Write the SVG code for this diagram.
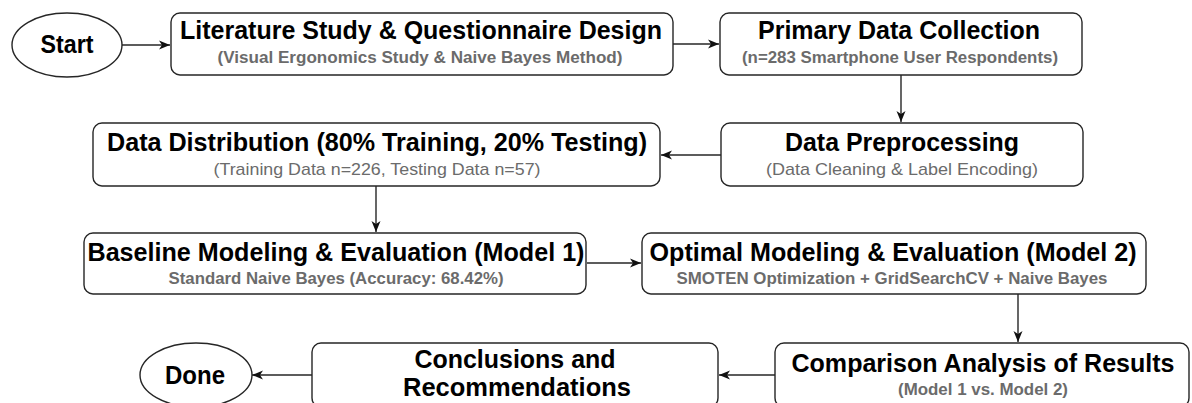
<svg xmlns="http://www.w3.org/2000/svg" width="1192" height="403" viewBox="0 0 1192 403">
  <style>
    .shape { fill: #ffffff; stroke: #262626; stroke-width: 1.4; }
    .edge { fill: none; stroke: #262626; stroke-width: 1.4; }
    .title { font-family: "Liberation Sans", Arial, sans-serif; font-weight: bold; font-size: 25px; fill: #000000; text-anchor: middle; }
    .sub { font-family: "Liberation Sans", Arial, sans-serif; font-weight: bold; font-size: 16px; fill: #6b6b6b; text-anchor: middle; }
    .sub-reg { font-family: "Liberation Sans", Arial, sans-serif; font-weight: normal; font-size: 17px; fill: #6b6b6b; text-anchor: middle; }
  </style>
  <defs>
    <marker id="arrow" markerUnits="userSpaceOnUse" markerWidth="12" markerHeight="10" refX="11" refY="5" orient="auto">
      <path d="M0,0.5 L11,5 L0,9.5 L3,5 Z" fill="#111111"/>
    </marker>
  </defs>

  <rect width="1192" height="403" fill="#ffffff"/>

  <!-- connectors -->
  <g id="connectors">
    <path class="edge" d="M122,45 H170" marker-end="url(#arrow)"/>
    <path class="edge" d="M673,44 H719" marker-end="url(#arrow)"/>
    <path class="edge" d="M901,75 V122" marker-end="url(#arrow)"/>
    <path class="edge" d="M721,155 H661" marker-end="url(#arrow)"/>
    <path class="edge" d="M376,186 V232" marker-end="url(#arrow)"/>
    <path class="edge" d="M587,263 H641" marker-end="url(#arrow)"/>
    <path class="edge" d="M1018,294 V342" marker-end="url(#arrow)"/>
    <path class="edge" d="M775,375 H719" marker-end="url(#arrow)"/>
    <path class="edge" d="M312,375 H252" marker-end="url(#arrow)"/>
  </g>

  <!-- terminals -->
  <g id="start">
    <ellipse class="shape" cx="67" cy="45" rx="55" ry="32"/>
    <text class="title" x="67" y="53" textLength="53" lengthAdjust="spacingAndGlyphs">Start</text>
  </g>

  <!-- process steps -->
  <g id="literature-study">
    <rect class="shape" x="171" y="13" width="502" height="62" rx="9"/>
    <text class="title" x="421" y="39" textLength="482" lengthAdjust="spacingAndGlyphs">Literature Study &amp; Questionnaire Design</text>
    <text class="sub" x="420" y="63" textLength="405" lengthAdjust="spacingAndGlyphs">(Visual Ergonomics Study &amp; Naive Bayes Method)</text>
  </g>

  <g id="data-collection">
    <rect class="shape" x="720" y="13" width="362" height="62" rx="9"/>
    <text class="title" x="899" y="39" textLength="282" lengthAdjust="spacingAndGlyphs">Primary Data Collection</text>
    <text class="sub" x="900" y="63" textLength="316" lengthAdjust="spacingAndGlyphs">(n=283 Smartphone User Respondents)</text>
  </g>

  <g id="data-preprocessing">
    <rect class="shape" x="721" y="123" width="362" height="63" rx="9"/>
    <text class="title" x="902" y="151" textLength="234" lengthAdjust="spacingAndGlyphs">Data Preprocessing</text>
    <text class="sub-reg" x="902" y="175" textLength="272" lengthAdjust="spacingAndGlyphs">(Data Cleaning &amp; Label Encoding)</text>
  </g>

  <g id="data-distribution">
    <rect class="shape" x="93" y="123" width="567" height="63" rx="9"/>
    <text class="title" x="377" y="151" textLength="540" lengthAdjust="spacingAndGlyphs">Data Distribution (80% Training, 20% Testing)</text>
    <text class="sub-reg" x="377" y="175" textLength="327" lengthAdjust="spacingAndGlyphs">(Training Data n=226, Testing Data n=57)</text>
  </g>

  <g id="baseline-model">
    <rect class="shape" x="84" y="233" width="502" height="61" rx="9"/>
    <text class="title" x="336" y="261" textLength="497" lengthAdjust="spacingAndGlyphs">Baseline Modeling &amp; Evaluation (Model 1)</text>
    <text class="sub" x="336" y="284" textLength="335" lengthAdjust="spacingAndGlyphs">Standard Naive Bayes (Accuracy: 68.42%)</text>
  </g>

  <g id="optimal-model">
    <rect class="shape" x="642" y="233" width="504" height="61" rx="9"/>
    <text class="title" x="893" y="261" textLength="487" lengthAdjust="spacingAndGlyphs">Optimal Modeling &amp; Evaluation (Model 2)</text>
    <text class="sub" x="892" y="284" textLength="431" lengthAdjust="spacingAndGlyphs">SMOTEN Optimization + GridSearchCV + Naive Bayes</text>
  </g>

  <g id="comparison">
    <rect class="shape" x="775" y="343" width="414" height="64" rx="9"/>
    <text class="title" x="983" y="372" textLength="383" lengthAdjust="spacingAndGlyphs">Comparison Analysis of Results</text>
    <text class="sub" x="983" y="395" textLength="170" lengthAdjust="spacingAndGlyphs">(Model 1 vs. Model 2)</text>
  </g>

  <g id="conclusions">
    <rect class="shape" x="312" y="343" width="406" height="64" rx="9"/>
    <text class="title" x="515" y="368" textLength="201" lengthAdjust="spacingAndGlyphs">Conclusions and</text>
    <text class="title" x="517" y="396" textLength="228" lengthAdjust="spacingAndGlyphs">Recommendations</text>
  </g>

  <g id="done">
    <ellipse class="shape" cx="196" cy="375" rx="56" ry="32"/>
    <text class="title" x="195" y="384" textLength="60" lengthAdjust="spacingAndGlyphs">Done</text>
  </g>
</svg>
